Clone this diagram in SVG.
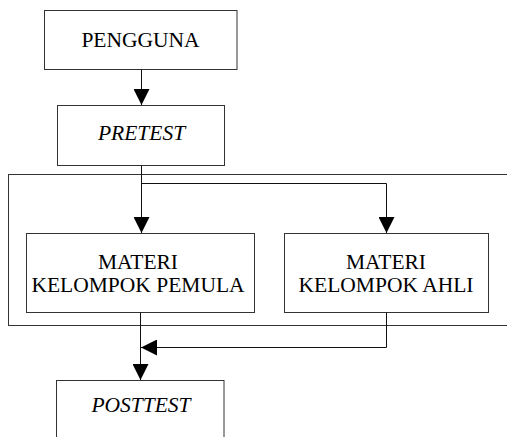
<svg xmlns="http://www.w3.org/2000/svg" width="507" height="437" viewBox="0 0 507 437">
<style>
.box{fill:#fff;stroke:#333;stroke-width:1}
.frame{fill:none;stroke:#333;stroke-width:1}
.lbl{font-family:"Liberation Serif","Times New Roman",serif;font-size:21.5px;fill:#000;text-anchor:middle}
.it{font-style:italic}
.con{fill:none;stroke:#111;stroke-width:1;marker-end:url(#ah)}
</style>
<defs>
<marker id="ah" markerUnits="userSpaceOnUse" markerWidth="16" markerHeight="16" viewBox="0 0 14 14" refX="14" refY="7" orient="auto">
<path d="M0,0 L14,7 L0,14 Z" fill="#000"/>
</marker>
</defs>
<rect width="507" height="437" fill="#fff"/>
<g id="kelompok-frame">
<rect class="frame" x="8.5" y="174.5" width="510" height="151"/>
</g>
<g id="pengguna">
<rect class="box" x="44.5" y="10.5" width="192.5" height="59"/>
<text class="lbl" x="140.5" y="46.5">PENGGUNA</text>
</g>
<g id="pretest">
<rect class="box" x="57.5" y="105.5" width="167" height="60"/>
<text class="lbl it" x="141.5" y="140">PRETEST</text>
</g>
<g id="materi-pemula">
<rect class="box" x="26.5" y="233.5" width="228" height="79"/>
<text class="lbl" x="138" y="269">MATERI</text>
<text class="lbl" x="138" y="291.5">KELOMPOK PEMULA</text>
</g>
<g id="materi-ahli">
<rect class="box" x="284.5" y="233.5" width="204" height="79"/>
<text class="lbl" x="386" y="269">MATERI</text>
<text class="lbl" x="386" y="291.5">KELOMPOK AHLI</text>
</g>
<g id="posttest">
<rect class="box" x="56.5" y="380.5" width="167.5" height="70"/>
<text class="lbl it" x="141" y="411.5">POSTTEST</text>
</g>
<g id="connectors">
<path class="con" d="M141.5,69.5 V105"/>
<path class="con" d="M141.5,165.5 V233"/>
<path class="con" d="M141.5,183.5 H386.5 V233"/>
<path class="con" d="M140.5,312.5 V380"/>
<path class="con" d="M386.5,312.5 V347.5 H141"/>
</g>
</svg>
